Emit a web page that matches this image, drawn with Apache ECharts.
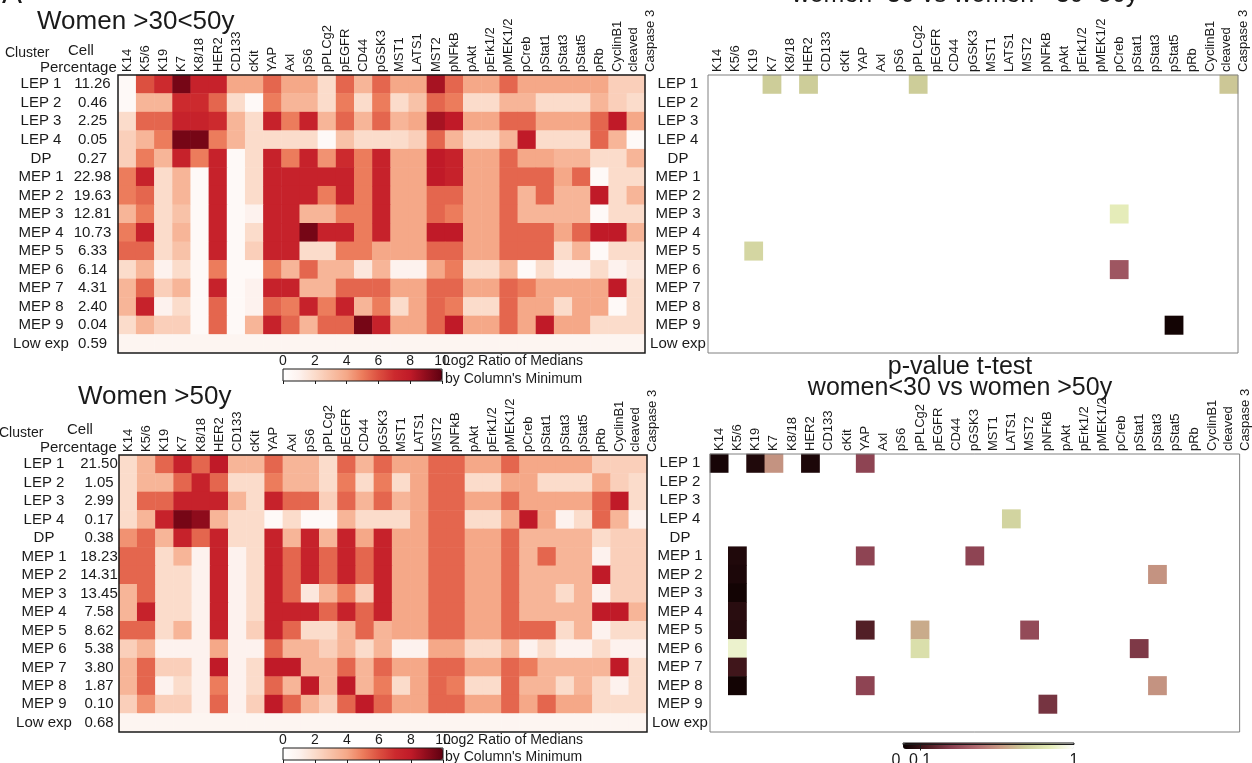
<!DOCTYPE html>
<html><head><meta charset="utf-8">
<script src="https://cdn.jsdelivr.net/npm/echarts@6/dist/echarts.min.js"></script>
<style>html,body{margin:0;padding:0;background:#fff}#c{width:1252px;height:763px}</style>
</head><body><div id="c"></div>
<script>
const markers = ['K14','K5/6','K19','K7','K8/18','HER2','CD133','cKit','YAP','Axl','pS6','pPLCg2','pEGFR','CD44','pGSK3','MST1','LATS1','MST2','pNFkB','pAkt','pErk1/2','pMEK1/2','pCreb','pStat1','pStat3','pStat5','pRb','CyclinB1','cleaved\nCaspase 3'];
const clusters = ['LEP 1','LEP 2','LEP 3','LEP 4','DP','MEP 1','MEP 2','MEP 3','MEP 4','MEP 5','MEP 6','MEP 7','MEP 8','MEP 9','Low exp'];
const pctMid = [11.26,0.46,2.25,0.05,0.27,22.98,19.63,12.81,10.73,6.33,6.14,4.31,2.40,0.04,0.59];
const pctOld = [21.50,1.05,2.99,0.17,0.38,18.23,14.31,13.45,7.58,8.62,5.38,3.80,1.87,0.10,0.68];
const ratioMid = [
 [0.5,6,7,9.5,7.5,7.5,4,4,5.5,4,4,2,5.5,3.5,5.5,4,4,8.5,5.5,4,4,5.5,4,4,4,4,4,2.5,2.5],
 [0.5,3.5,3.5,7,7,5.5,2,0.5,5,3.5,3.5,2,5,2,5,2,3,5.5,5,2,2,3.5,3.5,2,2,2,3.5,2.5,2],
 [2,5.5,5.5,7.5,7.5,7,3.5,2,7.5,5,7.5,3.5,5.5,3.5,5.5,3.5,4,8.5,8,4,4,5.5,5.5,4,4,4,5.5,8,4],
 [2.5,3.5,5,9.5,9.5,5,3.5,2,2,2,2,0.5,3,2,2,2,2.5,5.5,3.5,2,2,3.5,8,2,2,2,5.5,3.5,0.5],
 [2.5,5,3.5,7.5,5,7.5,0.5,2,7.5,5,7.5,4.5,7,5,7.5,4,4,8,7.5,4,4,5.5,4,4,3.5,3.5,2,2,3.5],
 [5,7.5,2,3.5,0.5,7.5,0.5,2,7.5,7.5,7.5,7.5,7.5,5,7.5,4,4,8,7.5,4,4,5.5,5.5,5.5,4,5.5,0.5,2,2],
 [5,5.5,2,3.5,0.5,7.5,0.5,2,7.5,7.5,7.5,5,7.5,5,7.5,4,4,5.5,5.5,4,4,5.5,3.5,5.5,3.5,3.5,8,2,3.5],
 [3.5,5,2,3,0.5,7.5,0.5,1,7.5,7.5,3.5,3.5,5,5,7.5,4,4,5.5,5,4,4,5.5,3.5,3.5,3.5,3.5,0.5,2,2],
 [5,7.5,2,3.5,0.5,7.5,0.5,2,7.5,7.5,9.5,7.5,7.5,5,7.5,4,4,8,8,4,4,5.5,5.5,5.5,4,5.5,8,8,3.5],
 [5.5,5.5,2,3,0.5,7.5,0.5,2.5,7.5,7.5,2,2,5,5,4,4,4,5.5,5.5,4,4,5.5,5.5,5.5,2,3.5,0.5,2,2],
 [2,3.5,1,2,0.5,5,0.5,0.5,5,3.5,5.5,3.5,3.5,1.5,3.5,1,1,4,5,2,2,3.5,0.5,2,1,1,2,1,1.5],
 [3.5,5.5,2.5,3.5,0.5,7.5,0.5,1,7.5,7.5,3.5,3.5,5.5,5.5,5.5,4,4,5.5,5.5,4,4,5.5,5,4,4,4,4,8,2],
 [3.5,7.5,1,2,0.5,5.5,0.5,1,5.5,5,7.5,5,7.5,3.5,5,2,4,5.5,5,2,2,5.5,4,4,2,4,4,0.5,2],
 [2,3.5,2.5,2.5,0.5,5.5,0.5,3.5,7.5,5.5,3.5,5.5,5.5,9.5,7.5,4,4,5.5,8,4,4,5.5,4,8,4,4,2,2,2],
 [0.8,0.8,0.8,0.8,0.8,0.8,0.8,0.8,0.8,0.8,0.8,0.8,0.8,0.8,0.8,0.8,0.8,0.8,0.8,0.8,0.8,0.8,0.8,0.8,0.8,0.8,0.8,0.8,0.8]
];
const ratioOld = [
 [2,3.5,5.5,7.5,5.5,8,3.5,3.5,5.5,3.5,3.5,2,5.5,3.5,5.5,4,4,5.5,5.5,4,4,5.5,4,4,4,4,2.5,2.5,2.5],
 [2,3.5,3.5,5.5,7.5,5.5,2,2,5,3.5,3.5,2,5,2,5,2,4,5.5,5.5,2,2,4,4,2,2,2,4,2.5,2],
 [2,5.5,5.5,7.5,7.5,7.5,3.5,2,7.5,5.5,5.5,2.5,5.5,3.5,5.5,3.5,4,5.5,5.5,4,4,5.5,4,4,4,4,5.5,8,2],
 [2,3.5,7.5,9.5,9,3.5,2,2,0.5,2,0.5,0.5,3.5,2,2,2,4,5.5,5.5,2,2,4,8,4,1,2,5.5,3.5,1],
 [4.5,5.5,3.5,7.5,5.5,7.5,2,2,7.5,3.5,7.5,3.5,7.5,4,7.5,4,4,5.5,5.5,4,4,5.5,3.5,3.5,3.5,3.5,2,2.5,2.5],
 [5.5,5.5,2,3.5,1,7.5,1,2,7.5,5.5,7.5,5.5,7.5,5.5,7.5,4,4,5.5,5.5,4,4,5.5,3.5,5.5,3.5,3.5,1,2.5,2.5],
 [5.5,5.5,2,2,1,7.5,1,2,7.5,5.5,7.5,5.5,7.5,5.5,7.5,4,4,5.5,5.5,4,4,5.5,3.5,3.5,3.5,3.5,8,2.5,2.5],
 [3.5,5.5,2,2,1,7.5,1,2,7.5,5.5,1.5,3.5,5,2.5,7.5,4,4,5.5,5.5,4,4,5.5,3.5,3.5,2,3.5,1,2.5,2.5],
 [3.5,7.5,2,2,1,7.5,1,2,7.5,7.5,7.5,5.5,7.5,5.5,7.5,4,4,5.5,5.5,4,4,5.5,3.5,3.5,3.5,3.5,8,8,3.5],
 [5.5,5.5,2,3.5,1,7.5,1,2.5,7.5,5.5,2,2,3.5,5.5,3.5,4,4,5.5,5.5,4,4,5.5,5.5,5.5,2,3.5,1,2,2],
 [2.5,3.5,1,1,1,4,1,1,5.5,3.5,3.5,2.5,3.5,2,3.5,1,1,4,4,2,2,3.5,1,2,1,1,2,1,1],
 [3.5,5.5,2.5,2.5,1,8,1,2,8,8,3.5,3.5,5.5,3.5,5.5,4,4,5.5,5.5,4,4,5.5,5,3.5,3.5,3.5,3.5,8,2],
 [3.5,5.5,1,2,1,5,1,2,5.5,3.5,8,3.5,8,3.5,5,2,4,5.5,5,2,2,5.5,3.5,3.5,2,3.5,2,1,2],
 [2.5,4.5,2.5,2.5,1,5.5,1,2.5,8,5.5,3.5,2.5,5.5,8,5.5,4,4,5.5,5.5,4,4,5.5,4,5.5,4,4,2,2,2],
 [0.8,0.8,0.8,0.8,0.8,0.8,0.8,0.8,0.8,0.8,0.8,0.8,0.8,0.8,0.8,0.8,0.8,0.8,0.8,0.8,0.8,0.8,0.8,0.8,0.8,0.8,0.8,0.8,0.8]
];
const pMid = [
 ['K7','LEP 1',0.72],['HER2','LEP 1',0.72],['pPLCg2','LEP 1',0.72],['cleaved\nCaspase 3','LEP 1',0.7],
 ['pCreb','MEP 3',0.86],['K19','MEP 5',0.76],['pCreb','MEP 6',0.36],['pStat5','MEP 9',0.02]
];
const pOld = [
 ['K14','LEP 1',0.03],['K19','LEP 1',0.05],['K7','LEP 1',0.55],['HER2','LEP 1',0.04],['YAP','LEP 1',0.3],
 ['LATS1','LEP 4',0.75],
 ['K5/6','MEP 1',0.05],['YAP','MEP 1',0.3],['pGSK3','MEP 1',0.3],
 ['K5/6','MEP 2',0.04],['pStat3','MEP 2',0.55],
 ['K5/6','MEP 3',0.02],['K5/6','MEP 4',0.07],
 ['K5/6','MEP 5',0.06],['YAP','MEP 5',0.16],['pPLCg2','MEP 5',0.62],['MST2','MEP 5',0.32],
 ['K5/6','MEP 6',0.9],['pPLCg2','MEP 6',0.8],['pStat1','MEP 6',0.26],
 ['K5/6','MEP 7',0.12],
 ['K5/6','MEP 8',0.02],['YAP','MEP 8',0.3],['pStat3','MEP 8',0.55],
 ['pNFkB','MEP 9',0.24]
];
const ratioTicks = [0,2,4,6,8,10];
const pTicks = [0,0.1,1];

const FONT = 'Liberation Sans, Arial, Helvetica, sans-serif';
const TXT = '#1a1a1a';
const ratioColors = ['#ffffff','#fdf2ee','#fbdccb','#f8c2a8','#f5a888','#ec7c5c','#dc5040','#cc2a2e','#c01a28','#8e0c1c','#5e0010'];
const pColors = ['#0a0000','#4a1a20','#8a4050','#b06a70','#c89a84','#cccc98','#e4ecb8','#ffffff'];

const heatData = m => { const out = []; m.forEach((row, r) => row.forEach((v, c) => out.push([c, r, v]))); return out; };
const pData = list => list.map(([m, cl, p]) => [markers.indexOf(m), clusters.indexOf(cl), p]);

const grids = [
  {left: 118, top: 75, width: 527, height: 278, show: true, borderColor: '#1a1a1a', borderWidth: 1.5, backgroundColor: 'transparent', z: 5},
  {left: 119, top: 455, width: 528, height: 277, show: true, borderColor: '#1a1a1a', borderWidth: 1.5, backgroundColor: 'transparent', z: 5},
  {left: 708, top: 75, width: 530, height: 278, show: true, borderColor: '#808080', borderWidth: 1, backgroundColor: 'transparent', z: 5},
  {left: 710, top: 454, width: 530, height: 278, show: true, borderColor: '#808080', borderWidth: 1, backgroundColor: 'transparent', z: 5},
  {left: 283, top: 369, width: 159, height: 12, show: true, borderColor: '#1a1a1a', borderWidth: 1, backgroundColor: 'transparent', z: 10},
  {left: 283, top: 748, width: 160, height: 12, show: true, borderColor: '#1a1a1a', borderWidth: 1, backgroundColor: 'transparent', z: 10},
  {left: 903, top: 743, width: 171, height: 6, show: true, borderColor: '#1a1a1a', borderWidth: 1, backgroundColor: 'transparent', z: 10}
];

const catLabel = v => v.indexOf('\n') >= 0
  ? '{s| }\n' + v.split('\n').map(t => '{a|' + t + '}').join('\n')
  : v;
const catX = gi => ({
  type: 'category', gridIndex: gi, data: markers, position: 'top',
  axisLine: {show: false}, axisTick: {show: false}, splitLine: {show: false},
  axisLabel: {
    interval: 0, rotate: -90, margin: 3, fontSize: 13, color: TXT, fontFamily: FONT,
    formatter: catLabel,
    rich: {
      a: {fontSize: 13, lineHeight: 17, color: TXT, fontFamily: FONT},
      s: {fontSize: 13, lineHeight: 13, color: TXT, fontFamily: FONT}
    }
  }
});
const cbarX = gi => ({
  type: 'value', gridIndex: gi, min: ratioTicks[0], max: ratioTicks[ratioTicks.length - 1], interval: 2, position: 'top', z: 10,
  axisLine: {show: false}, splitLine: {show: false},
  axisTick: {show: true, inside: true, length: 3, lineStyle: {color: TXT}},
  axisLabel: {fontSize: 14, margin: 1, color: TXT, fontFamily: FONT}
});
const leftY = (gi, pct, wa, wb) => ({
  type: 'category', gridIndex: gi, data: clusters, inverse: true,
  axisLine: {show: false}, axisTick: {show: false}, splitLine: {show: false},
  axisLabel: {
    interval: 0, margin: 0, align: 'right',
    formatter: (v, i) => '{a|' + v + '}{b|' + pct[i].toFixed(2) + '}',
    rich: {
      a: {width: wa, align: 'center', fontSize: 15, color: TXT, fontFamily: FONT},
      b: {width: wb, align: 'left', fontSize: 15, color: TXT, fontFamily: FONT}
    }
  }
});
const rightY = gi => ({
  type: 'category', gridIndex: gi, data: clusters, inverse: true,
  axisLine: {show: false}, axisTick: {show: false}, splitLine: {show: false},
  axisLabel: {
    interval: 0, margin: 0, align: 'right',
    formatter: v => '{a|' + v + '}',
    rich: {a: {width: 60, align: 'center', fontSize: 15, color: TXT, fontFamily: FONT}}
  }
});
const hiddenY = gi => ({type: 'value', gridIndex: gi, min: 0, max: 1, show: false});

const heat = (xi, data) => ({
  type: 'heatmap', xAxisIndex: xi, yAxisIndex: xi, data: data, progressive: 0,
  itemStyle: {borderWidth: 0}, emphasis: {disabled: true}, silent: true
});
const txt = (x, y, text, size, extra) => ({type: 'text', x: x, y: y, silent: true,
  style: Object.assign({text: text, font: size + 'px ' + FONT, fill: TXT, verticalAlign: 'middle'}, extra || {})});

const option = {
  backgroundColor: '#ffffff',
  animation: false,
  textStyle: {fontFamily: FONT},
  grid: grids,
  xAxis: [catX(0), catX(1), catX(2), catX(3), cbarX(4), cbarX(5), {
    type: 'value', gridIndex: 6, min: 0, max: 1, position: 'bottom', z: 10,
    axisLine: {show: false}, splitLine: {show: false},
    axisTick: {show: true, customValues: [pTicks[1]], length: 6, lineStyle: {color: TXT}},
    axisLabel: {
      customValues: pTicks, fontSize: 16, margin: 8, color: TXT, fontFamily: FONT,
      formatter: v => v === 0 ? '{z|0}' : String(v),
      rich: {z: {fontSize: 16, color: TXT, fontFamily: FONT, padding: [0, 14, 0, 0]}}
    }
  }],
  yAxis: [leftY(0, pctMid, 52, 51), leftY(1, pctOld, 70, 40), rightY(2), rightY(3), hiddenY(4), hiddenY(5), hiddenY(6)],
  visualMap: [
    {type: 'continuous', seriesIndex: 0, min: 0, max: 10, orient: 'horizontal', left: 283, top: 369, itemWidth: 12, itemHeight: 159, padding: 0, calculable: false, hoverLink: false, inRange: {color: ratioColors}},
    {type: 'continuous', seriesIndex: 1, min: 0, max: 10, orient: 'horizontal', left: 283, top: 748, itemWidth: 12, itemHeight: 160, padding: 0, calculable: false, hoverLink: false, inRange: {color: ratioColors}},
    {type: 'continuous', seriesIndex: [2, 3], min: 0, max: 1, orient: 'horizontal', left: 903, top: 743, itemWidth: 6, itemHeight: 171, padding: 0, calculable: false, hoverLink: false, inRange: {color: pColors}}
  ],
  series: [
    heat(0, heatData(ratioMid)),
    heat(1, heatData(ratioOld)),
    heat(2, pData(pMid)),
    heat(3, pData(pOld)),
    {type: 'scatter', xAxisIndex: 4, yAxisIndex: 4, data: [], silent: true},
    {type: 'scatter', xAxisIndex: 5, yAxisIndex: 5, data: [], silent: true},
    {type: 'scatter', xAxisIndex: 6, yAxisIndex: 6, data: [], silent: true}
  ],
  graphic: [
    {type: 'text', left: 2, top: -20, style: {text: 'A', font: '30px ' + FONT, fill: TXT}},
    txt(37, 22, 'Women >30<50y', 26),
    txt(5, 53, 'Cluster', 14),
    txt(68, 51, 'Cell', 15),
    txt(40, 68, 'Percentage', 15),
    txt(78, 397, 'Women >50y', 26),
    txt(-1, 433, 'Cluster', 14),
    txt(67, 430, 'Cell', 15),
    txt(40, 448, 'Percentage', 15),
    txt(443, 361, 'Log2 Ratio of Medians', 14),
    txt(445, 379, "by Column's Minimum", 14),
    txt(443, 740, 'Log2 Ratio of Medians', 14),
    txt(445, 757, "by Column's Minimum", 14),
    txt(965, 6, 'p-value t-test\nwomen<30 vs women >30<50y', 25, {lineHeight: 21, align: 'center', verticalAlign: 'bottom'}),
    txt(960, 399, 'p-value t-test\nwomen<30 vs women >50y', 25, {lineHeight: 21, align: 'center', verticalAlign: 'bottom'})
  ]
};
const chart = echarts.init(document.getElementById('c'), null, {renderer: 'canvas', width: 1252, height: 763});
chart.setOption(option);
</script></body></html>
